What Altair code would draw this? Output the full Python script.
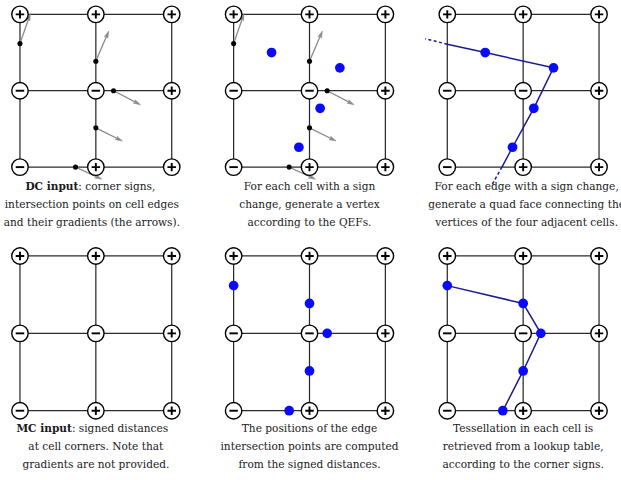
import math

import altair as alt
import pandas as pd

# ---------------------------------------------------------------------------
# Data: a 2x2 block of grid cells (3x3 lattice of corners), in cell units
# ---------------------------------------------------------------------------
CORNER_X = [0, 1, 2, 0, 1, 2, 0, 1, 2]
CORNER_Y = [2, 2, 2, 1, 1, 1, 0, 0, 0]
CORNER_SIGN = ["+", "+", "+", "-", "-", "+", "-", "+", "+"]

# points where the surface crosses a cell edge
CROSS_X = [0.0, 1.0, 1.233, 1.0, 0.732]
CROSS_Y = [1.617, 1.386, 1.0, 0.514, 0.0]

# gradient (normal) at each crossing point
GRAD_DX = [0.122, 0.152, 0.314, 0.309, 0.305]
GRAD_DY = [0.348, 0.353, -0.162, -0.152, -0.139]

# one dual vertex per cell that has a sign change
VERT_X = [0.50, 1.40, 1.14, 0.86]
VERT_Y = [1.50, 1.30, 0.77, 0.26]

# where the dual surface leaves the block, and its continuation outside
EXIT_X = [0.0, 0.72]
EXIT_Y = [1.61, 0.0]
BEYOND_X = [-0.29, 0.59]
BEYOND_Y = [1.68, -0.23]

CAPTIONS = {
    "dc_input": ["DC input: corner signs,",
                 "intersection points on cell edges",
                 "and their gradients (the arrows)."],
    "dc_vertex": ["For each cell with a sign",
                  "change, generate a vertex",
                  "according to the QEFs."],
    "dc_quad": ["For each edge with a sign change,",
                "generate a quad face connecting the",
                "vertices of the four adjacent cells."],
    "mc_input": ["MC input: signed distances",
                 "at cell corners. Note that",
                 "gradients are not provided."],
    "mc_points": ["The positions of the edge",
                  "intersection points are computed",
                  "from the signed distances."],
    "mc_tess": ["Tessellation in each cell is",
                "retrieved from a lookup table,",
                "according to the corner signs."],
}
BOLD_LEAD = {"dc_input": "DC input", "mc_input": "MC input"}

# ---------------------------------------------------------------------------
# Layout / style
# ---------------------------------------------------------------------------
PANEL_W = [213.5, 213.5, 194.0]
ROW_H = [242.0, 238.0]
ORIGIN_X = 20.0          # px from panel left to lattice x = 0
TOP_PAD = 14.0           # px from panel top to lattice y = 2
PX_X = 76.0              # px per cell, horizontally
PX_Y = [76.5, 77.5]      # px per cell, vertically (per row)

FONT = "DejaVu Serif"
FONT_SIZE = 10.6
TEXT_COLOR = "#1a1a1a"
LINE_Y = [[189.5, 207.5, 225.5], [190.5, 208.5, 226.5]]
CAPTION_CX = {"dc_input": 92, "dc_quad": 99.5}
BOLD_SPLIT = {"dc_input": 78.5, "mc_input": 72.0}

GRID_COLOR = "#2b2b2b"
ARROW_COLOR = "#8a8a8a"
BLUE = "#0a0aff"
NAVY = "#1a1a8f"

PLUS_PATH = "M-1,0L1,0M0,-1L0,1"
MINUS_PATH = "M-1,0L1,0"
HEAD_PATH = "M0,-1L0.55,1L0,0.55L-0.55,1Z"

# ---------------------------------------------------------------------------
# Tables
# ---------------------------------------------------------------------------
corners = pd.DataFrame({
    "x": CORNER_X,
    "y": CORNER_Y,
    "path": [PLUS_PATH if s == "+" else MINUS_PATH for s in CORNER_SIGN],
})

lo_x, hi_x = min(CORNER_X), max(CORNER_X)
lo_y, hi_y = min(CORNER_Y), max(CORNER_Y)
edge_rows = []
for v in sorted(set(CORNER_Y)):
    edge_rows.append({"x": lo_x, "x2": hi_x, "y": v, "y2": v})
for v in sorted(set(CORNER_X)):
    edge_rows.append({"x": v, "x2": v, "y": lo_y, "y2": hi_y})
edges = pd.DataFrame(edge_rows)

crossings = pd.DataFrame({"x": CROSS_X, "y": CROSS_Y,
                          "dx": GRAD_DX, "dy": GRAD_DY})
crossings["tx"] = crossings["x"] + crossings["dx"]
crossings["ty"] = crossings["y"] + crossings["dy"]
crossings["angle"] = [
    (math.degrees(math.atan2(dx * PX_X, dy * PX_Y[0])) + 360) % 360
    for dx, dy in zip(GRAD_DX, GRAD_DY)
]
crossings["head"] = HEAD_PATH
crossings["order"] = range(len(crossings))

vertices = pd.DataFrame({"x": VERT_X, "y": VERT_Y})

# the dual polyline: exit point, the four vertices, exit point
chain_x = [EXIT_X[0]] + VERT_X + [EXIT_X[1]]
chain_y = [EXIT_Y[0]] + VERT_Y + [EXIT_Y[1]]
chain = pd.DataFrame({"x": chain_x, "y": chain_y, "order": range(len(chain_x))})

stubs = pd.DataFrame({
    "x": [EXIT_X[0], BEYOND_X[0], EXIT_X[1], BEYOND_X[1]],
    "y": [EXIT_Y[0], BEYOND_Y[0], EXIT_Y[1], BEYOND_Y[1]],
    "seg": ["a", "a", "b", "b"],
    "order": [0, 1, 0, 1],
})


# ---------------------------------------------------------------------------
# Panel builder
# ---------------------------------------------------------------------------
def panel(kind, col, row):
    w = PANEL_W[col]
    h = ROW_H[row]
    py = PX_Y[row]
    xs = alt.Scale(domain=[-ORIGIN_X / PX_X, (w - ORIGIN_X) / PX_X],
                   nice=False, zero=False)
    ys = alt.Scale(domain=[2 - (h - TOP_PAD) / py, 2 + TOP_PAD / py],
                   nice=False, zero=False)

    def X(f="x"):
        return alt.X(f"{f}:Q", scale=xs, axis=None)

    def Y(f="y"):
        return alt.Y(f"{f}:Q", scale=ys, axis=None)

    layers = []

    grid = alt.Chart(edges).mark_rule(color=GRID_COLOR, strokeWidth=1.25).encode(
        x=X(), y=Y(), x2="x2:Q", y2="y2:Q")
    layers.append(grid)

    if kind in ("dc_input", "dc_vertex"):
        arrows = alt.Chart(crossings).mark_rule(
            color=ARROW_COLOR, strokeWidth=1.3).encode(
            x=X(), y=Y(), x2="tx:Q", y2="ty:Q")
        heads = alt.Chart(crossings).mark_point(
            filled=True, fill=ARROW_COLOR, stroke=ARROW_COLOR, strokeWidth=0.5,
            size=50, opacity=1).encode(
            x=X("tx"), y=Y("ty"),
            shape=alt.Shape("head:N", scale=None),
            angle=alt.Angle("angle:Q", scale=None))
        dots = alt.Chart(crossings).mark_circle(
            color="black", size=26, opacity=1).encode(x=X(), y=Y())
        layers += [arrows, heads, dots]

    if kind in ("dc_quad", "mc_tess"):
        src = chain if kind == "dc_quad" else crossings
        line = alt.Chart(src).mark_line(color=NAVY, strokeWidth=1.5).encode(
            x=X(), y=Y(), order="order:Q")
        layers.append(line)
        if kind == "dc_quad":
            dashed = alt.Chart(stubs).mark_line(
                color=NAVY, strokeWidth=1.5, strokeDash=[3, 2.5]).encode(
                x=X(), y=Y(), detail="seg:N", order="order:Q")
            layers.append(dashed)

    circles = alt.Chart(corners).mark_point(
        shape="circle", filled=True, fill="white", stroke="black",
        strokeWidth=1.4, size=272, opacity=1).encode(x=X(), y=Y())
    signs = alt.Chart(corners).mark_point(
        filled=False, stroke="black", strokeWidth=1.9, size=72,
        opacity=1).encode(x=X(), y=Y(),
                          shape=alt.Shape("path:N", scale=None))
    layers += [circles, signs]

    if kind in ("dc_vertex", "dc_quad"):
        layers.append(alt.Chart(vertices).mark_circle(
            color=BLUE, size=95, opacity=1).encode(x=X(), y=Y()))
    if kind in ("mc_points", "mc_tess"):
        layers.append(alt.Chart(crossings).mark_circle(
            color=BLUE, size=95, opacity=1).encode(x=X(), y=Y()))

    # caption, three centred lines under the lattice
    cx = CAPTION_CX.get(kind, ORIGIN_X + PX_X)
    clip = col == 2
    line_y = LINE_Y[row]
    for i, line_text in enumerate(CAPTIONS[kind]):
        base = dict(font=FONT, fontSize=FONT_SIZE, color=TEXT_COLOR,
                    baseline="alphabetic", clip=clip)
        if i == 0 and kind in BOLD_LEAD:
            lead = BOLD_LEAD[kind]
            rest = line_text[len(lead):]
            split = BOLD_SPLIT[kind]
            layers.append(alt.Chart(pd.DataFrame({"t": [lead]})).mark_text(
                align="right", fontWeight="bold", **base).encode(
                text="t:N", x=alt.value(split), y=alt.value(line_y[i])))
            layers.append(alt.Chart(pd.DataFrame({"t": [rest]})).mark_text(
                align="left", **base).encode(
                text="t:N", x=alt.value(split), y=alt.value(line_y[i])))
        else:
            layers.append(alt.Chart(pd.DataFrame({"t": [line_text]})).mark_text(
                align="center", **base).encode(
                text="t:N", x=alt.value(cx), y=alt.value(line_y[i])))

    return alt.layer(*layers).properties(width=w, height=h)


top = alt.hconcat(panel("dc_input", 0, 0), panel("dc_vertex", 1, 0),
                  panel("dc_quad", 2, 0), spacing=0, bounds="flush")
bottom = alt.hconcat(panel("mc_input", 0, 1), panel("mc_points", 1, 1),
                     panel("mc_tess", 2, 1), spacing=0, bounds="flush")

chart = alt.vconcat(top, bottom, spacing=0).properties(
    padding=0, background="white"
).configure_view(stroke=None)

chart.save("out.html", embed_options={"renderer": "svg", "actions": False})
